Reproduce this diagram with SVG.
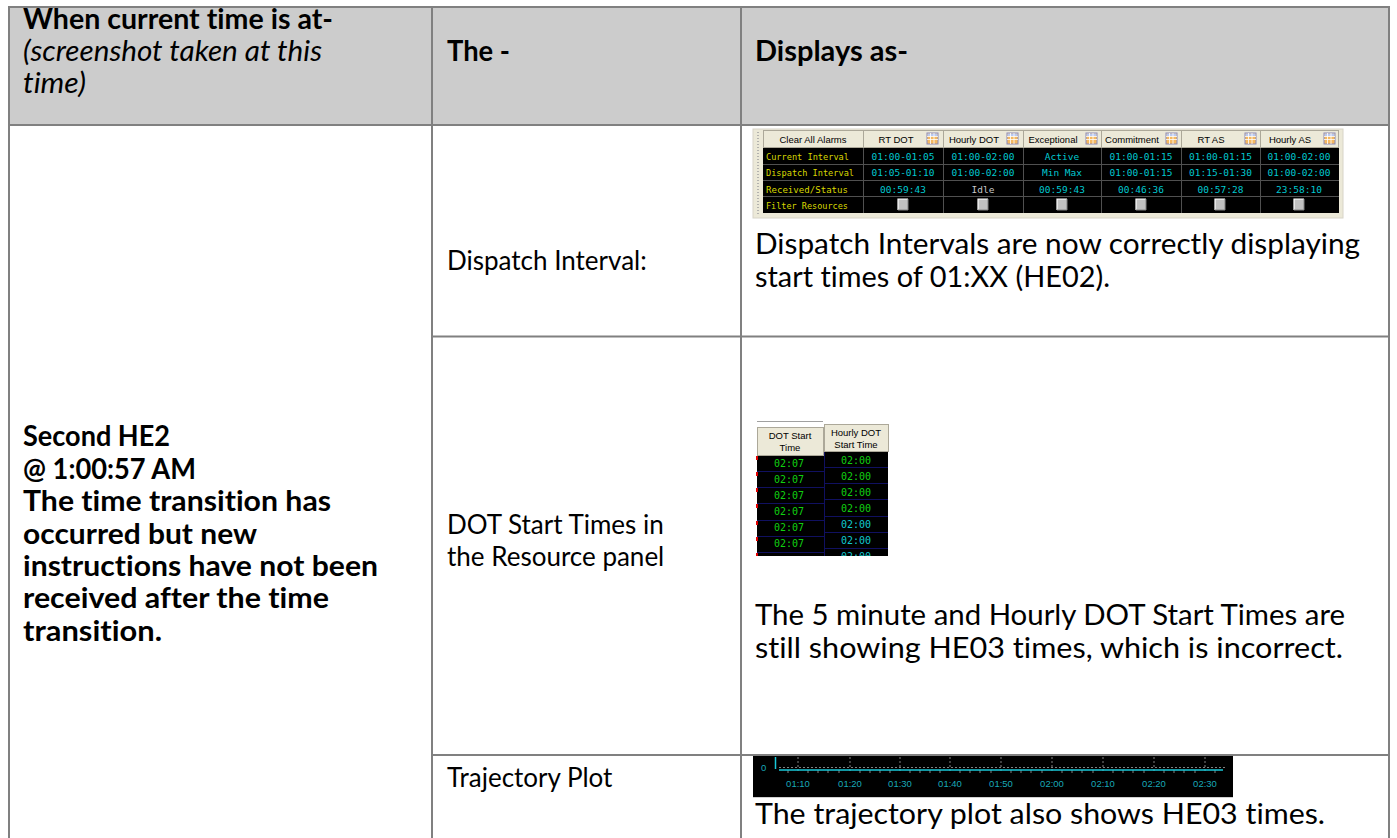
<svg xmlns="http://www.w3.org/2000/svg" width="1397" height="838" viewBox="0 0 1397 838">
  <style>
    .txt { font-family: Lato, "Open Sans", sans-serif; font-size: 28px; fill: #000; font-variant-ligatures: none; }
    .fit { lengthAdjust: spacingAndGlyphs; }
    .mid { font-size: 26px; }
    .bold { font-weight: bold; }
    .ital { font-style: italic; }
    .grid { stroke: #808080; stroke-width: 2; fill: none; }
    .hdrcell { fill: #ece9d8; stroke: #aca899; stroke-width: 1; }
    .hdrtxt { font-family: "Liberation Sans", Arial, sans-serif; font-size: 9.5px; fill: #000; text-anchor: middle; }
    .lbl { font-family: "DejaVu Sans Mono", monospace; font-size: 9.5px; fill: #d8d800; }
    .val { font-family: "DejaVu Sans Mono", monospace; font-size: 9.5px; fill: #00c8d0; text-anchor: middle; }
    .idle { fill: #c8c8c8; }
    .cellline { stroke: #505050; stroke-width: 1; }
    .green { font-family: "DejaVu Sans Mono", monospace; font-size: 10px; fill: #10d010; text-anchor: middle; }
    .cyan { font-family: "DejaVu Sans Mono", monospace; font-size: 10px; fill: #10c8d0; text-anchor: middle; }
    .navy { stroke: #101060; stroke-width: 1; }
    .axis { font-family: "Liberation Sans", Arial, sans-serif; font-size: 9.5px; fill: #18a8b8; text-anchor: middle; }
    .dash { stroke: #808080; stroke-width: 1; stroke-dasharray: 2 2; }
  </style>
  <defs>
    <!-- small grid icon shown in the panel column headers -->
    <g id="gridIcon">
      <rect x="0" y="0" width="11" height="11" fill="#f4b860" stroke="#8a8ab8" stroke-width="1"/>
      <rect x="0.5" y="0.5" width="10" height="2.5" fill="#b8c8f0"/>
      <path d="M0 3.5H11M0 6.5H11M3.5 0V11M7 0V11" stroke="#ffffff" stroke-width="0.8"/>
    </g>
    <!-- checkbox used in the Filter Resources row -->
    <g id="checkbox">
      <rect x="0" y="0" width="10" height="11" fill="#c0c0c0"/>
      <path d="M0 11V0H10" stroke="#ffffff" stroke-width="1.2" fill="none"/>
      <path d="M10 0V11H0" stroke="#808080" stroke-width="1" fill="none"/>
    </g>
    <clipPath id="dotClip"><rect x="824" y="549" width="64" height="7"/></clipPath>
  </defs>

  <rect width="1397" height="838" fill="#ffffff"/>

  <!-- header row background -->
  <rect id="header-bg" x="9" y="8" width="1380" height="116" fill="#cccccc"/>

  <!-- table rules -->
  <g id="table-grid" class="grid">
    <line x1="8" y1="7" x2="1390" y2="7"/>
    <line x1="9" y1="7" x2="9" y2="838"/>
    <line x1="1389" y1="7" x2="1389" y2="838"/>
    <line x1="432" y1="7" x2="432" y2="838"/>
    <line x1="741" y1="7" x2="741" y2="838"/>
    <line x1="8" y1="125" x2="1390" y2="125"/>
    <line x1="432" y1="336.5" x2="1390" y2="336.5"/>
    <line x1="432" y1="755" x2="1390" y2="755"/>
  </g>

  <!-- header cells -->
  <g id="hdr-time">
    <text class="txt bold" x="23" y="29" textLength="310" lengthAdjust="spacingAndGlyphs">When current time is at-</text>
    <text class="txt ital" x="23" y="61" textLength="299" lengthAdjust="spacingAndGlyphs">(screenshot taken at this</text>
    <text class="txt ital" x="23" y="93" textLength="63" lengthAdjust="spacingAndGlyphs">time)</text>
  </g>
  <g id="hdr-the">
    <text class="txt bold" x="447" y="61" textLength="63" lengthAdjust="spacingAndGlyphs">The -</text>
  </g>
  <g id="hdr-displays">
    <text class="txt bold" x="755" y="61" textLength="153" lengthAdjust="spacingAndGlyphs">Displays as-</text>
  </g>

  <!-- time cell -->
  <g id="cell-time">
    <text class="txt bold" x="23" y="446" textLength="147" lengthAdjust="spacingAndGlyphs">Second HE2</text>
    <text class="txt bold" x="23" y="479" textLength="173" lengthAdjust="spacingAndGlyphs">@ 1:00:57 AM</text>
    <text class="txt bold" x="23" y="511" textLength="308" lengthAdjust="spacingAndGlyphs">The time transition has</text>
    <text class="txt bold" x="23" y="544" textLength="234" lengthAdjust="spacingAndGlyphs">occurred but new</text>
    <text class="txt bold" x="23" y="576" textLength="355" lengthAdjust="spacingAndGlyphs">instructions have not been</text>
    <text class="txt bold" x="23" y="608" textLength="306" lengthAdjust="spacingAndGlyphs">received after the time</text>
    <text class="txt bold" x="23" y="641" textLength="139" lengthAdjust="spacingAndGlyphs">transition.</text>
  </g>

  <!-- item names -->
  <g id="item-dispatch">
    <text class="txt mid" x="447" y="270">Dispatch Interval:</text>
  </g>
  <g id="item-dot">
    <text class="txt mid" x="447" y="534">DOT Start Times in</text>
    <text class="txt mid" x="447" y="566">the Resource panel</text>
  </g>
  <g id="item-trajectory">
    <text class="txt mid" x="447" y="787">Trajectory Plot</text>
  </g>

  <!-- Dispatch interval panel -->
  <g id="panel-dispatch">
    <rect x="753" y="129" width="590" height="89" fill="#ece9d8" stroke="#d8d4c8" stroke-width="1"/>
    <line x1="758" y1="132" x2="758" y2="215" stroke="#a0a0a0" stroke-width="1.5" stroke-dasharray="1 2"/>
    <!-- header row -->
    <rect class="hdrcell" x="763.5" y="130.5" width="100" height="17"/>
    <rect class="hdrcell" x="863.5" y="130.5" width="80" height="17"/>
    <rect class="hdrcell" x="943.5" y="130.5" width="80" height="17"/>
    <rect class="hdrcell" x="1023.5" y="130.5" width="78" height="17"/>
    <rect class="hdrcell" x="1101.5" y="130.5" width="80" height="17"/>
    <rect class="hdrcell" x="1181.5" y="130.5" width="79" height="17"/>
    <rect class="hdrcell" x="1260.5" y="130.5" width="78" height="17"/>
    <text class="hdrtxt" x="813" y="142.5">Clear All Alarms</text>
    <text class="hdrtxt" x="896" y="142.5">RT DOT</text>
    <text class="hdrtxt" x="974" y="142.5">Hourly DOT</text>
    <text class="hdrtxt" x="1053" y="142.5">Exceptional</text>
    <text class="hdrtxt" x="1132" y="142.5">Commitment</text>
    <text class="hdrtxt" x="1211" y="142.5">RT AS</text>
    <text class="hdrtxt" x="1290" y="142.5">Hourly AS</text>
    <use href="#gridIcon" x="927" y="133"/>
    <use href="#gridIcon" x="1007" y="133"/>
    <use href="#gridIcon" x="1086" y="133"/>
    <use href="#gridIcon" x="1166" y="133"/>
    <use href="#gridIcon" x="1245" y="133"/>
    <use href="#gridIcon" x="1324" y="133"/>
    <!-- data body -->
    <rect x="763" y="148" width="576" height="65" fill="#000000"/>
    <g class="cellline">
      <line x1="763" y1="164.5" x2="1339" y2="164.5"/>
      <line x1="763" y1="180.5" x2="1339" y2="180.5"/>
      <line x1="763" y1="196.5" x2="1339" y2="196.5"/>
      <line x1="863.5" y1="148" x2="863.5" y2="213"/>
      <line x1="943.5" y1="148" x2="943.5" y2="213"/>
      <line x1="1023.5" y1="148" x2="1023.5" y2="213"/>
      <line x1="1101.5" y1="148" x2="1101.5" y2="213"/>
      <line x1="1181.5" y1="148" x2="1181.5" y2="213"/>
      <line x1="1260.5" y1="148" x2="1260.5" y2="213"/>
    </g>
    <text class="lbl" x="766" y="160" textLength="83" lengthAdjust="spacingAndGlyphs">Current Interval</text>
    <text class="lbl" x="766" y="176" textLength="88" lengthAdjust="spacingAndGlyphs">Dispatch Interval</text>
    <text class="lbl" x="766" y="192.5" textLength="82" lengthAdjust="spacingAndGlyphs">Received/Status</text>
    <text class="lbl" x="766" y="208.5" textLength="82" lengthAdjust="spacingAndGlyphs">Filter Resources</text>

    <text class="val" x="903" y="160">01:00-01:05</text>
    <text class="val" x="903" y="176">01:05-01:10</text>
    <text class="val" x="903" y="192.5">00:59:43</text>
    <text class="val" x="983" y="160">01:00-02:00</text>
    <text class="val" x="983" y="176">01:00-02:00</text>
    <text class="val idle" x="983" y="192.5">Idle</text>
    <text class="val" x="1062" y="160">Active</text>
    <text class="val" x="1062" y="176">Min Max</text>
    <text class="val" x="1062" y="192.5">00:59:43</text>
    <text class="val" x="1141" y="160">01:00-01:15</text>
    <text class="val" x="1141" y="176">01:00-01:15</text>
    <text class="val" x="1141" y="192.5">00:46:36</text>
    <text class="val" x="1220.5" y="160">01:00-01:15</text>
    <text class="val" x="1220.5" y="176">01:15-01:30</text>
    <text class="val" x="1220.5" y="192.5">00:57:28</text>
    <text class="val" x="1299" y="160">01:00-02:00</text>
    <text class="val" x="1299" y="176">01:00-02:00</text>
    <text class="val" x="1299" y="192.5">23:58:10</text>

    <use href="#checkbox" x="898" y="199"/>
    <use href="#checkbox" x="978" y="199"/>
    <use href="#checkbox" x="1057" y="199"/>
    <use href="#checkbox" x="1136" y="199"/>
    <use href="#checkbox" x="1215" y="199"/>
    <use href="#checkbox" x="1294" y="199"/>
  </g>

  <g id="desc-dispatch">
    <text class="txt" x="755" y="254" textLength="605" lengthAdjust="spacingAndGlyphs">Dispatch Intervals are now correctly displaying</text>
    <text class="txt" x="755" y="287" textLength="355" lengthAdjust="spacingAndGlyphs">start times of 01:XX (HE02).</text>
  </g>

  <!-- DOT start time columns -->
  <g id="panel-dot">
    <line x1="757" y1="421.5" x2="823" y2="421.5" stroke="#a0a0a0" stroke-width="1"/>
    <rect class="hdrcell" x="757.5" y="427.5" width="66" height="28"/>
    <text class="hdrtxt" x="790" y="439">DOT Start</text>
    <text class="hdrtxt" x="790" y="451">Time</text>
    <rect class="hdrcell" x="824.5" y="424.5" width="64" height="27"/>
    <text class="hdrtxt" x="856" y="436">Hourly DOT</text>
    <text class="hdrtxt" x="856" y="448">Start Time</text>
    <rect x="757" y="456" width="67" height="100" fill="#000000"/>
    <rect x="824" y="452" width="64" height="104" fill="#000000"/>
    <g class="navy">
      <line x1="757" y1="471.5" x2="824" y2="471.5"/>
      <line x1="757" y1="487.5" x2="824" y2="487.5"/>
      <line x1="757" y1="503.5" x2="824" y2="503.5"/>
      <line x1="757" y1="520.5" x2="824" y2="520.5"/>
      <line x1="757" y1="536.5" x2="824" y2="536.5"/>
      <line x1="757" y1="552.5" x2="824" y2="552.5"/>
      <line x1="825" y1="467.5" x2="888" y2="467.5"/>
      <line x1="825" y1="483.5" x2="888" y2="483.5"/>
      <line x1="825" y1="499.5" x2="888" y2="499.5"/>
      <line x1="825" y1="516.5" x2="888" y2="516.5"/>
      <line x1="825" y1="532.5" x2="888" y2="532.5"/>
      <line x1="825" y1="548.5" x2="888" y2="548.5"/>
      <line x1="824.5" y1="452" x2="824.5" y2="556"/>
    </g>
    <g fill="#e00000">
      <rect x="756" y="456" width="2" height="4"/>
      <rect x="756" y="472" width="2" height="4"/>
      <rect x="756" y="488" width="2" height="4"/>
      <rect x="756" y="504" width="2" height="4"/>
      <rect x="756" y="521" width="2" height="4"/>
      <rect x="756" y="537" width="2" height="4"/>
      <rect x="756" y="553" width="2" height="3"/>
    </g>
    <text class="green" x="789" y="467">02:07</text>
    <text class="green" x="789" y="483">02:07</text>
    <text class="green" x="789" y="499">02:07</text>
    <text class="green" x="789" y="515">02:07</text>
    <text class="green" x="789" y="531">02:07</text>
    <text class="green" x="789" y="547">02:07</text>
    <text class="green" x="856" y="464">02:00</text>
    <text class="green" x="856" y="480">02:00</text>
    <text class="green" x="856" y="496">02:00</text>
    <text class="green" x="856" y="512">02:00</text>
    <text class="cyan" x="856" y="528">02:00</text>
    <text class="cyan" x="856" y="544">02:00</text>
    <text class="cyan" x="856" y="560" clip-path="url(#dotClip)">02:00</text>
  </g>

  <g id="desc-dot">
    <text class="txt" x="755" y="625" textLength="590" lengthAdjust="spacingAndGlyphs">The 5 minute and Hourly DOT Start Times are</text>
    <text class="txt" x="755" y="658" textLength="588" lengthAdjust="spacingAndGlyphs">still showing HE03 times, which is incorrect.</text>
  </g>

  <!-- trajectory plot strip -->
  <g id="panel-trajectory">
    <rect x="753" y="756" width="480" height="41" fill="#000000"/>
    <line x1="753" y1="797.5" x2="1233" y2="797.5" stroke="#d0d0d0" stroke-width="1"/>
    <text x="761" y="771" font-family="Liberation Sans, Arial, sans-serif" font-size="9.5" fill="#18a8b8">0</text>
    <line x1="775.5" y1="757" x2="775.5" y2="769" stroke="#18c8d8" stroke-width="1.5"/>
    <line x1="779" y1="767.5" x2="1225" y2="767.5" class="dash"/>
    <g class="dash">
      <line x1="798" y1="757" x2="798" y2="773"/>
      <line x1="850" y1="757" x2="850" y2="773"/>
      <line x1="900" y1="757" x2="900" y2="773"/>
      <line x1="950" y1="757" x2="950" y2="773"/>
      <line x1="1001" y1="757" x2="1001" y2="773"/>
      <line x1="1052" y1="757" x2="1052" y2="773"/>
      <line x1="1103" y1="757" x2="1103" y2="773"/>
      <line x1="1154" y1="757" x2="1154" y2="773"/>
      <line x1="1205" y1="757" x2="1205" y2="773"/>
    </g>
    <path stroke="#808080" stroke-width="1" d="M788 770v3M808 770v3M818 770v3M828 770v3M839 770v3M860 770v3M870 770v3M880 770v3M890 770v3M910 770v3M920 770v3M930 770v3M940 770v3M960 770v3M970 770v3M980 770v3M991 770v3M1011 770v3M1021 770v3M1031 770v3M1042 770v3M1062 770v3M1072 770v3M1082 770v3M1093 770v3M1113 770v3M1123 770v3M1133 770v3M1144 770v3M1164 770v3M1174 770v3M1184 770v3M1195 770v3M1215 770v3"/>
    <line x1="779" y1="770" x2="1223" y2="770" stroke="#18c8d8" stroke-width="1.6"/>
    <text class="axis" x="798" y="787">01:10</text>
    <text class="axis" x="850" y="787">01:20</text>
    <text class="axis" x="900" y="787">01:30</text>
    <text class="axis" x="950" y="787">01:40</text>
    <text class="axis" x="1001" y="787">01:50</text>
    <text class="axis" x="1052" y="787">02:00</text>
    <text class="axis" x="1103" y="787">02:10</text>
    <text class="axis" x="1154" y="787">02:20</text>
    <text class="axis" x="1205" y="787">02:30</text>
  </g>

  <g id="desc-trajectory">
    <text class="txt" x="755" y="824" textLength="570" lengthAdjust="spacingAndGlyphs">The trajectory plot also shows HE03 times.</text>
  </g>
</svg>
